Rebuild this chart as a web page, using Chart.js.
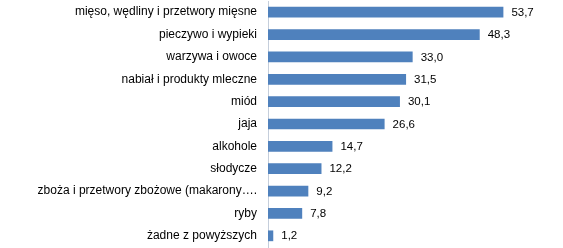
<!DOCTYPE html>
<html>
<head>
<meta charset="utf-8">
<script src="https://cdn.jsdelivr.net/npm/chart.js@4/dist/chart.umd.min.js"></script>
<style>
  html, body { margin: 0; padding: 0; background: #fff; }
  #wrap { width: 563px; height: 248px; position: relative; }
</style>
</head>
<body>
<div id="wrap"><canvas id="c" width="563" height="248"></canvas></div>
<script>
const categories = [
  "mięso, wędliny i przetwory mięsne",
  "pieczywo i wypieki",
  "warzywa i owoce",
  "nabiał i produkty mleczne",
  "miód",
  "jaja",
  "alkohole",
  "słodycze",
  "zboża i przetwory zbożowe (makarony….",
  "ryby",
  "żadne z powyższych"
];
const values = [53.7, 48.3, 33.0, 31.5, 30.1, 26.6, 14.7, 12.2, 9.2, 7.8, 1.2];

const valueLabels = {
  id: 'valueLabels',
  afterDatasetsDraw(chart) {
    const ctx = chart.ctx;
    const meta = chart.getDatasetMeta(0);
    ctx.save();
    ctx.font = '11.5px "Liberation Sans", Arial, sans-serif';
    ctx.fillStyle = '#000';
    ctx.textAlign = 'left';
    ctx.textBaseline = 'middle';
    meta.data.forEach((bar, i) => {
      const txt = values[i].toFixed(1).replace('.', ',');
      ctx.fillText(txt, bar.x + 8, bar.y + 0.5);
    });
    ctx.restore();
  }
};

new Chart(document.getElementById('c'), {
  type: 'bar',
  data: {
    labels: categories,
    datasets: [{
      data: values,
      backgroundColor: '#4F81BD',
      borderWidth: 0,
      barPercentage: 0.48,
      categoryPercentage: 1.0
    }]
  },
  options: {
    indexAxis: 'y',
    responsive: false,
    animation: false,
    devicePixelRatio: 1,
    layout: { padding: { top: 1, bottom: 1, left: 0, right: 32 } },
    plugins: { legend: { display: false }, tooltip: { enabled: false } },
    scales: {
      x: { display: false, min: 0, max: 60 },
      y: {
        grid: { display: false, drawTicks: false },
        border: { display: true, color: '#C5CEDB', width: 1 },
        ticks: {
          padding: 11,
          color: '#000',
          font: { family: '"Liberation Sans", Arial, sans-serif', size: 12 },
          autoSkip: false
        },
        afterFit(scale) {
          scale.width = 268;
          scale.paddingTop = 0;
          scale.paddingBottom = 0;
        }
      }
    }
  },
  plugins: [valueLabels]
});
</script>
</body>
</html>
